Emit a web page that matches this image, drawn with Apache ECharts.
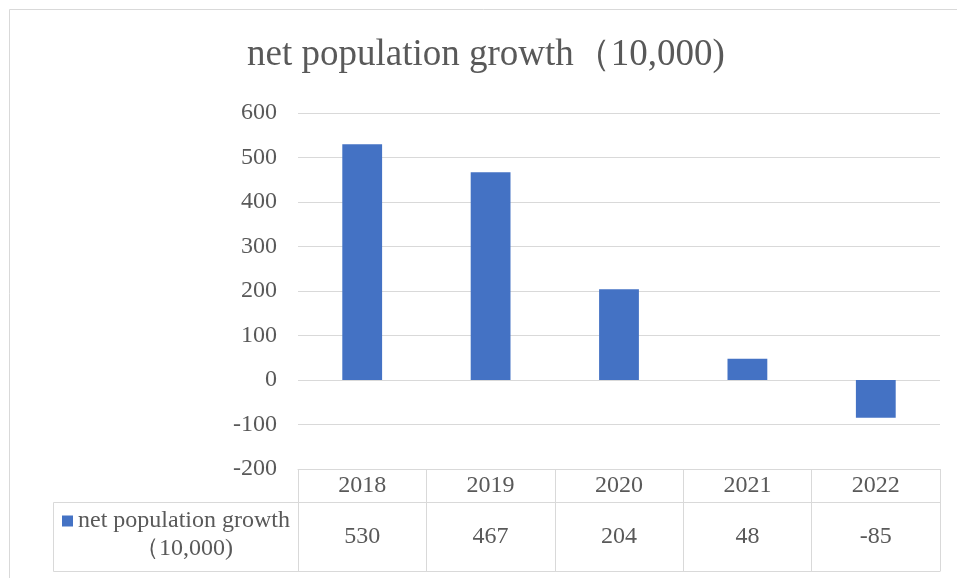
<!DOCTYPE html>
<html>
<head>
<meta charset="utf-8">
<script src="https://cdn.jsdelivr.net/npm/echarts@6/dist/echarts.min.js"></script>
<style>html,body{margin:0;padding:0;background:#fff}#c{width:957px;height:578px}</style>
</head>
<body>
<div id="c"></div>
<script>
const titleText = 'net population growth（10,000)';
const seriesName = 'net population growth（10,000)';
const years = ['2018', '2019', '2020', '2021', '2022'];
const growth = [530, 467, 204, 48, -85];
const yMin = -200, yMax = 600, yStep = 100;

const FONT = '"Liberation Serif", "Times New Roman", serif';
const TXT = '#595959';
const LINE = '#d9d9d9';
const FS = 24;

// layout
const GL = 298, GR = 940, GT = 113, TT = 469, R1 = 502, R2 = 571, LL = 53;

const chart = echarts.init(document.getElementById('c'), null, {renderer: 'canvas'});
chart.setOption({
  animation: false,
  backgroundColor: '#fff',
  title: {
    text: titleText,
    left: 247,
    top: 37,
    padding: 0,
    textStyle: {fontFamily: FONT, fontSize: 37, fontWeight: 'normal', color: TXT}
  },
  legend: {
    left: 57,
    top: 476,
    itemWidth: 11,
    itemHeight: 11,
    icon: 'rect',
    selectedMode: false,
    data: [seriesName],
    formatter: () => '{e| }\n{a|net population growth}\n{b|（10,000)}',
    textStyle: {
      fontFamily: FONT, fontSize: FS, color: TXT,
      rich: {
        e: {fontFamily: FONT, fontSize: FS, lineHeight: 28},
        a: {fontFamily: FONT, fontSize: FS, lineHeight: 28, color: TXT},
        b: {fontFamily: FONT, fontSize: FS, lineHeight: 28, color: TXT, align: 'center'}
      }
    }
  },
  grid: {left: GL, right: 957 - GR, top: GT, bottom: 578 - TT, containLabel: false},
  xAxis: {
    type: 'category',
    data: years,
    axisLine: {show: true, onZero: false, lineStyle: {color: LINE, width: 1}},
    axisTick: {show: true, length: R2 - TT, lineStyle: {color: LINE, width: 1}},
    splitLine: {show: false},
    axisLabel: {
      margin: 0,
      interval: 0,
      formatter: (v, i) => '{y|' + v + '}\n{v|' + growth[i] + '}',
      rich: {
        y: {fontFamily: FONT, fontSize: FS, color: TXT, lineHeight: R1 - TT, height: R1 - TT, verticalAlign: 'middle'},
        v: {fontFamily: FONT, fontSize: FS, color: TXT, lineHeight: R2 - R1, height: R2 - R1, verticalAlign: 'middle'}
      }
    }
  },
  yAxis: {
    type: 'value',
    min: yMin, max: yMax, interval: yStep,
    axisLine: {show: false},
    axisTick: {show: false},
    splitLine: {show: true, lineStyle: {color: LINE, width: 1}},
    axisLabel: {fontFamily: FONT, fontSize: FS, color: TXT, margin: 21}
  },
  series: [{
    name: seriesName,
    type: 'bar',
    data: growth,
    barWidth: '31%',
    itemStyle: {color: '#4472C4'}
  }],
  graphic: [
    {type: 'line', shape: {x1: 9.5, y1: 9.5, x2: 957, y2: 9.5}, style: {stroke: LINE, lineWidth: 1}, silent: true},
    {type: 'line', shape: {x1: 9.5, y1: 9.5, x2: 9.5, y2: 578}, style: {stroke: LINE, lineWidth: 1}, silent: true},
    {type: 'line', shape: {x1: LL + 0.5, y1: R1 + 0.5, x2: GR + 0.5, y2: R1 + 0.5}, style: {stroke: LINE, lineWidth: 1}, silent: true},
    {type: 'line', shape: {x1: LL + 0.5, y1: R2 + 0.5, x2: GR + 0.5, y2: R2 + 0.5}, style: {stroke: LINE, lineWidth: 1}, silent: true},
    {type: 'line', shape: {x1: LL + 0.5, y1: R1 + 0.5, x2: LL + 0.5, y2: R2 + 0.5}, style: {stroke: LINE, lineWidth: 1}, silent: true}
  ]
});
</script>
</body>
</html>
